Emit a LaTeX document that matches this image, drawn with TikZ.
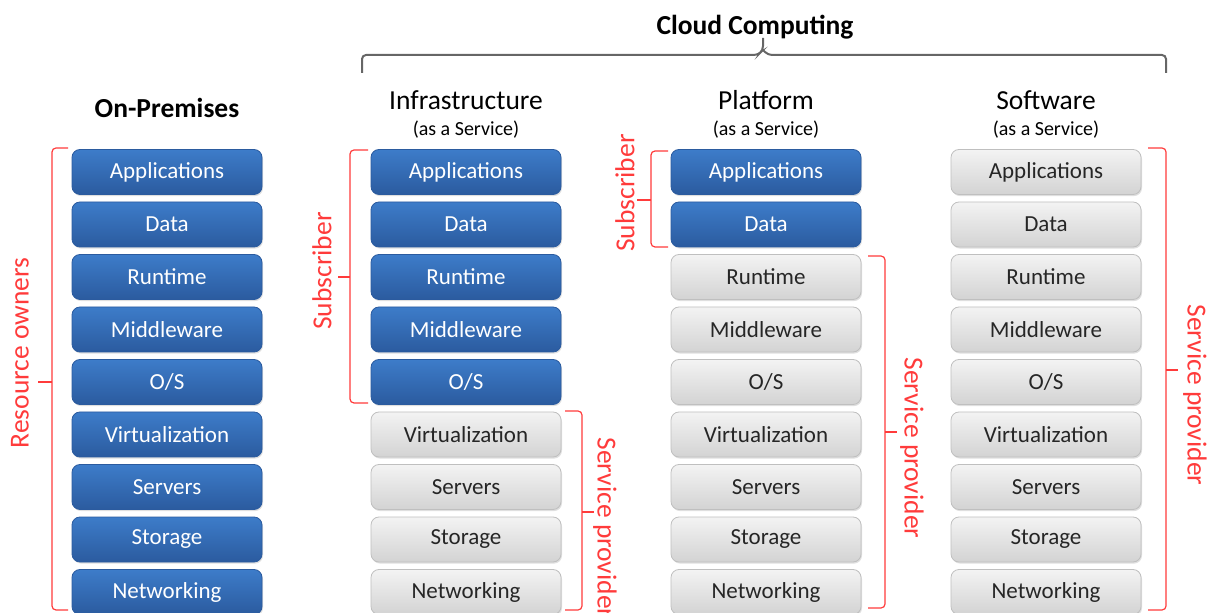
\documentclass[tikz,border=0pt]{standalone}
\usepackage{fontspec}
\setmainfont{Carlito}
\usetikzlibrary{shadows}

\definecolor{ownblue}{HTML}{3D7CC9}
\definecolor{ownbluedark}{HTML}{2B5B9F}
\definecolor{rentgray}{HTML}{F3F3F3}
\definecolor{rentgraydark}{HTML}{D3D3D3}
\definecolor{bracered}{HTML}{FF3B3B}
\definecolor{bracegray}{HTML}{666666}

\tikzset{
  layer/.style={rounded corners=4pt, minimum width=95pt, minimum height=22.5pt, inner sep=0pt,
    font=\fontsize{11.5}{12}\selectfont,
    drop shadow={opacity=0.25, shadow xshift=0.5pt, shadow yshift=-0.8pt}},
  own/.style={layer, top color=ownblue, bottom color=ownbluedark, draw=ownbluedark, text=white},
  rented/.style={layer, top color=rentgray, bottom color=rentgraydark, draw=black!25, text=black!85},
  redbrace/.style={bracered, line width=0.6pt, rounded corners=2pt},
  redlabel/.style={bracered, font=\fontsize{13.75}{14}\selectfont},
  coltitle/.style={font=\fontsize{13.75}{14}\selectfont},
  colsub/.style={font=\fontsize{10}{11}\selectfont},
}

\begin{document}
\begin{tikzpicture}[x=0.5pt,y=-0.5pt]
    \useasboundingbox (0,0) rectangle (1213,613);
    % stacks: column prefix / centre x / number of layers the subscriber owns
    \foreach \col/\cx/\nown in {op/167/9, ia/466/5, pa/766/2, sa/1046/0}
      \foreach \name [count=\i] in {Applications,Data,Runtime,Middleware,O/S,Virtualization,Servers,Storage,Networking}
      {
        \ifnum\i>\nown
          \node[rented] (\col\i) at (\cx,{172+52.5*(\i-1)}) {\name};
        \else
          \node[own] (\col\i) at (\cx,{172+52.5*(\i-1)}) {\name};
        \fi
      }
    % titles
    \node[coltitle,font=\fontsize{13.75}{14}\selectfont\bfseries] (cloud) at (755,27) {Cloud Computing};
    \node[coltitle,font=\fontsize{13.75}{14}\selectfont\bfseries] (optitle) at (167,108) {On-Premises};
    \node[coltitle] (iatitle) at (466,100) {Infrastructure};
    \node[colsub] (iasub) at (466,130) {(as a Service)};
    \node[coltitle] (patitle) at (766,100) {Platform};
    \node[colsub] (pasub) at (766,130) {(as a Service)};
    \node[coltitle] (satitle) at (1046,100) {Software};
    \node[colsub] (sasub) at (1046,130) {(as a Service)};
    % cloud brace
    \draw[bracegray, line width=1pt, rounded corners=2pt] (362,73) -- (362,55) -- (758,55) -- (763,50) -- (763,38);
    \draw[bracegray, line width=1pt, rounded corners=2pt] (763,50) -- (768,55) -- (1166,55) -- (1166,73);
    % on-premises
    \draw[redbrace] (68,148) -- (52,148) -- (52,610) -- (68,610);
    \draw[redbrace] (52,382) -- (38,382);
    \node[redlabel, rotate=90] (owners) at (20,353) {Resource owners};
    % infrastructure
    \draw[redbrace] (368,150) -- (350,150) -- (350,403) -- (368,403);
    \draw[redbrace] (350,277) -- (338,277);
    \node[redlabel, rotate=90] (iasubscr) at (322,271) {Subscriber};
    \draw[redbrace] (565,411) -- (582,411) -- (582,610) -- (565,610);
    \draw[redbrace] (582,512) -- (594,512);
    \node[redlabel, rotate=-90] (iaprov) at (605,528) {Service provider};
    % platform
    \draw[redbrace] (668,151) -- (651,151) -- (651,247) -- (668,247);
    \draw[redbrace] (651,200) -- (637,200);
    \node[redlabel, rotate=90] (pasubscr) at (625,193) {Subscriber};
    \draw[redbrace] (868,256) -- (885,256) -- (885,608) -- (868,608);
    \draw[redbrace] (885,432) -- (897,432);
    \node[redlabel, rotate=-90] (paprov) at (912,448) {Service provider};
    % software
    \draw[redbrace] (1148,148) -- (1166,148) -- (1166,610) -- (1148,610);
    \draw[redbrace] (1166,370) -- (1178,370);
    \node[redlabel, rotate=-90] (saprov) at (1195,395) {Service provider};
\end{tikzpicture}
\end{document}
